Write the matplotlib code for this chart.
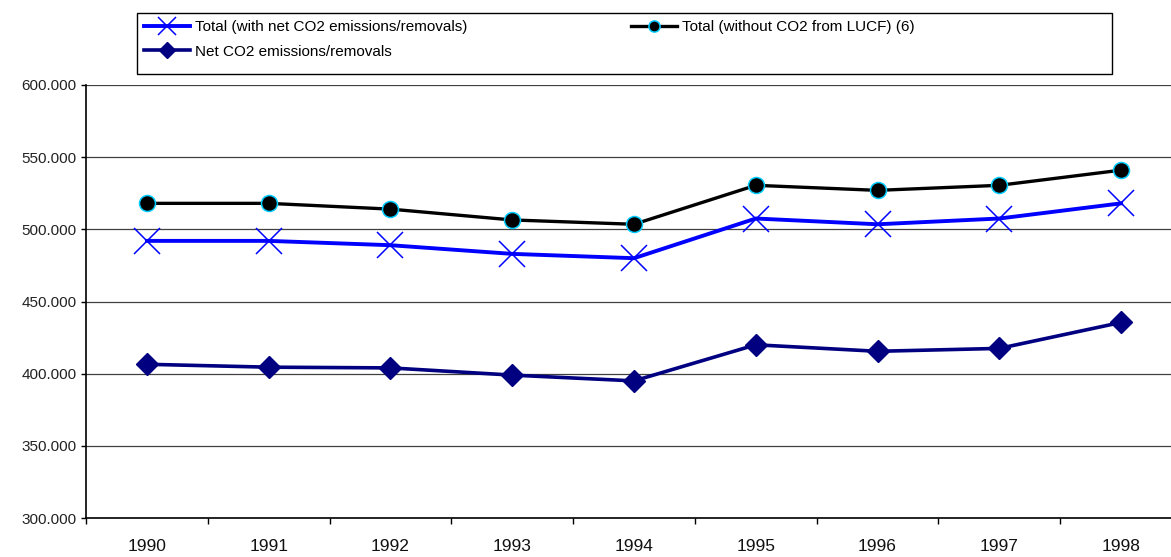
import matplotlib
matplotlib.use("Agg")
import matplotlib.pyplot as plt
from matplotlib.patches import Rectangle
import numpy as np

years = ["1990", "1991", "1992", "1993", "1994", "1995", "1996", "1997", "1998"]
total_with = [492.0, 492.0, 489.0, 483.0, 480.0, 507.5, 503.5, 507.5, 518.0]
total_without = [518.0, 518.0, 514.0, 506.5, 503.5, 530.5, 527.0, 530.5, 541.0]
net_co2 = [406.5, 404.5, 404.0, 399.0, 395.0, 420.0, 415.5, 417.5, 435.5]
yticks = [300, 350, 400, 450, 500, 550, 600]
ytick_labels = ["300.000", "350.000", "400.000", "450.000", "500.000", "550.000", "600.000"]
labels = ["Total (with net CO2 emissions/removals)",
          "Total (without CO2 from LUCF) (6)",
          "Net CO2 emissions/removals"]

plt.rcParams['font.family'] = ['Liberation Sans', 'DejaVu Sans']

W, H = 1171, 557
fig = plt.figure(figsize=(W / 100, H / 100), dpi=100)
ax = fig.add_axes([86 / W, (H - 518) / H, 1096 / W, 433 / H])

x = np.arange(len(years))
l_with, = ax.plot(x, total_with, color='#0000FF', lw=2.8, marker='x',
                  markersize=19, markeredgewidth=1.1, zorder=4)
l_without, = ax.plot(x, total_without, color='black', lw=2.4, marker='o',
                     markersize=11.5, markerfacecolor='black',
                     markeredgecolor='#00CCFF', markeredgewidth=1.1, zorder=4)
l_net, = ax.plot(x, net_co2, color='#000080', lw=2.6, marker='D',
                 markersize=11.5, markerfacecolor='#000080',
                 markeredgecolor='#000080', zorder=4)

ax.set_xlim(-0.5, len(years) - 0.5)
ax.set_ylim(300, 600)
ax.set_yticks(yticks)
ax.set_yticklabels(ytick_labels, fontsize=11, color='#222222')
ax.set_xticks(x)
ax.set_xticklabels(years, fontsize=12.5, color='#111111')
ax.set_xticks(np.arange(-0.5, len(years)), minor=True)
ax.tick_params(axis='x', which='major', length=0, pad=15)
ax.tick_params(axis='x', which='minor', length=4.3, width=1.0, direction='out', color='black')
ax.tick_params(axis='y', which='major', length=3.6, width=1.0, direction='out', pad=3, color='black')

ax.yaxis.grid(True, color='#404040', lw=0.9)
ax.set_axisbelow(True)
for s in ['top', 'right']:
    ax.spines[s].set_visible(False)
ax.spines['left'].set_linewidth(1.2)
ax.spines['bottom'].set_linewidth(1.2)

# legend frame
fig.patches.append(Rectangle((137 / W, 1 - 74 / H), (1112 - 137) / W, 61 / H,
                             transform=fig.transFigure, facecolor='white',
                             edgecolor='black', lw=1.0, zorder=1))

leg = fig.legend([l_with, l_net, l_without], [labels[0], labels[2], labels[1]],
                 ncol=2, loc='upper left',
                 bbox_to_anchor=(137 / W, 1 - 13 / H),
                 bbox_transform=fig.transFigure, fontsize=11,
                 frameon=False,
                 handlelength=3.0, handletextpad=0.35, labelspacing=0.7,
                 borderpad=0.45, borderaxespad=0, columnspacing=10.7)
for h in leg.legend_handles:
    h.set_markersize(h.get_markersize() * 0.7)

fig.savefig("out.png", dpi=100)
